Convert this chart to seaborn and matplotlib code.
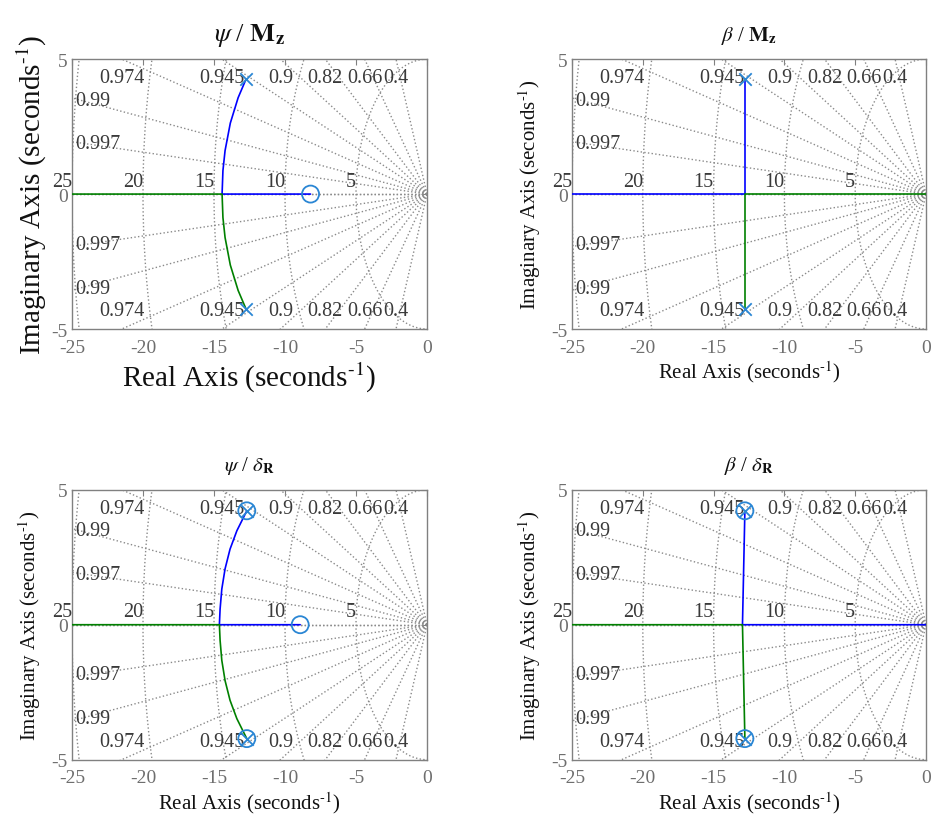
import numpy as np
import matplotlib
matplotlib.use('Agg')
import matplotlib.pyplot as plt
import seaborn as sns

# s-plane grid (sgrid) values
zeta_vals = [0.4, 0.66, 0.82, 0.9, 0.945, 0.974, 0.99, 0.997]
wn_vals = [5, 10, 15, 20, 25]

titles = [r'$\psi$ / $\mathbf{M}_{\mathbf{z}}$',
          r'$\beta$ / $\mathbf{M}_{\mathbf{z}}$',
          r'$\psi$ / $\delta_{\mathbf{R}}$',
          r'$\beta$ / $\delta_{\mathbf{R}}$']

# poles (x) and zeros (o)
poles_re = [[-12.75, -12.75], [-12.75, -12.75], [-12.69, -12.69], [-12.79, -12.79]]
poles_im = [[4.25, -4.25], [4.25, -4.25], [4.22, -4.22], [4.22, -4.22]]
zeros_re = [[-8.2], [], [-8.93, -12.69, -12.69], [-12.79, -12.79]]
zeros_im = [[0.0], [], [0.0, 4.22, -4.22], [4.22, -4.22]]

# root locus branches (blue / green)
blue_x = [[-12.75, -13.30, -13.85, -14.22, -14.37, -14.43, -8.2],
          [-12.75, -12.75, -30.0],
          [-12.69, -13.39, -13.87, -14.22, -14.45, -14.57, -14.62, -8.93],
          [-12.79, -12.96, 1.0]]
blue_y = [[4.25, 3.57, 2.63, 1.61, 0.87, 0.0, 0.0],
          [4.25, 0.0, 0.0],
          [4.22, 3.48, 2.80, 2.07, 1.32, 0.58, 0.0, 0.0],
          [4.22, 0.0, 0.0]]
green_x = [[-12.75, -13.30, -13.85, -14.22, -14.37, -14.43, -30.0],
           [-12.75, -12.75, 1.0],
           [-12.69, -13.39, -13.87, -14.22, -14.45, -14.57, -14.62, -30.0],
           [-12.79, -12.96, -30.0]]
green_y = [[-4.25, -3.57, -2.63, -1.61, -0.87, 0.0, 0.0],
           [-4.25, 0.0, 0.0],
           [-4.22, -3.48, -2.80, -2.07, -1.32, -0.58, 0.0, 0.0],
           [-4.22, 0.0, 0.0]]

sns.set_style('white')
plt.rcParams['font.family'] = ['Liberation Serif', 'DejaVu Serif']
plt.rcParams['mathtext.fontset'] = 'stix'
plt.rcParams['axes.unicode_minus'] = False

grid_c = '#8a8a8a'
lab_c = '#3a3a3a'
mk_c = '#2a86d4'


def sgrid(ax):
    # damping ratio rays
    for z in zeta_vals + [1.0]:
        s = np.sqrt(1 - z ** 2)
        for sg in (1, -1):
            ax.plot([0, -40 * z], [0, sg * 40 * s], ls=':', color=grid_c, lw=1.0, zorder=1)
        if z == 1.0:
            continue
        x_top = -5 * z / s
        if x_top > -24.0:
            for sg in (1, -1):
                ax.text(x_top, sg * 4.32, str(z), ha='center', va='center',
                        fontsize=14.5, color=lab_c, zorder=2)
        else:
            y_left = 25 * s / z
            for sg in (1, -1):
                ax.text(-24.75, sg * (y_left - 0.08), str(z), ha='left', va='center',
                        fontsize=14.5, color=lab_c, zorder=2)
    # natural frequency arcs
    t = np.linspace(np.pi / 2, 3 * np.pi / 2, 400)
    for w in wn_vals:
        ax.plot(w * np.cos(t), w * np.sin(t), ls=':', color=grid_c, lw=1.0, zorder=1)
        ax.text(-w, 0.12, str(w), ha='right', va='bottom', fontsize=14.5,
                color=lab_c, clip_on=False, zorder=2)


fig = plt.figure(figsize=(9.36, 8.28), dpi=100)
rects = [[0.0769, 0.6014, 0.3793, 0.326],
         [0.6111, 0.6014, 0.3782, 0.326],
         [0.0769, 0.0813, 0.3793, 0.326],
         [0.6111, 0.0813, 0.3782, 0.326]]

sup = r'$^{\text{-1}}$'

for i, r in enumerate(rects):
    ax = fig.add_axes(r)
    big = (i == 0)
    sgrid(ax)
    sns.lineplot(x=blue_x[i], y=blue_y[i], sort=False, estimator=None,
                 color='#0000ff', lw=1.2, ax=ax, zorder=3)
    sns.lineplot(x=green_x[i], y=green_y[i], sort=False, estimator=None,
                 color='#008000', lw=1.2, ax=ax, zorder=3)
    sns.scatterplot(x=poles_re[i], y=poles_im[i], marker='x', s=80,
                    color=mk_c, linewidth=1.3, ax=ax, zorder=4)
    if zeros_re[i]:
        sns.scatterplot(x=zeros_re[i], y=zeros_im[i], marker='o', s=150,
                        facecolor='none', edgecolor=mk_c, linewidth=1.3,
                        ax=ax, zorder=4)

    ax.set_xlim(-25, 0)
    ax.set_ylim(-5, 5)
    ax.set_xticks([-25, -20, -15, -10, -5, 0])
    ax.set_yticks([-5, 0, 5])
    ax.tick_params(direction='in', top=True, right=True, length=4,
                   color='#808080', labelcolor='#6e6e6e', labelsize=14)
    ax.tick_params(axis='x', pad=7)
    ax.tick_params(axis='y', pad=3)
    for sp in ax.spines.values():
        sp.set_color('#808080')
        sp.set_linewidth(1.0)

    lab_fs = 21 if big else 15
    ax.set_xlabel('Real Axis (seconds' + sup + ')', fontsize=lab_fs,
                  color='#111111', labelpad=3 if big else 2)
    ax.set_ylabel('Imaginary Axis (seconds' + sup + ')', fontsize=lab_fs,
                  color='#111111', labelpad=2 if big else 6)
    ax.set_title(titles[i], fontsize=19 if big else 15, pad=14, color='#111111')

fig.savefig('out.png', dpi=100)
